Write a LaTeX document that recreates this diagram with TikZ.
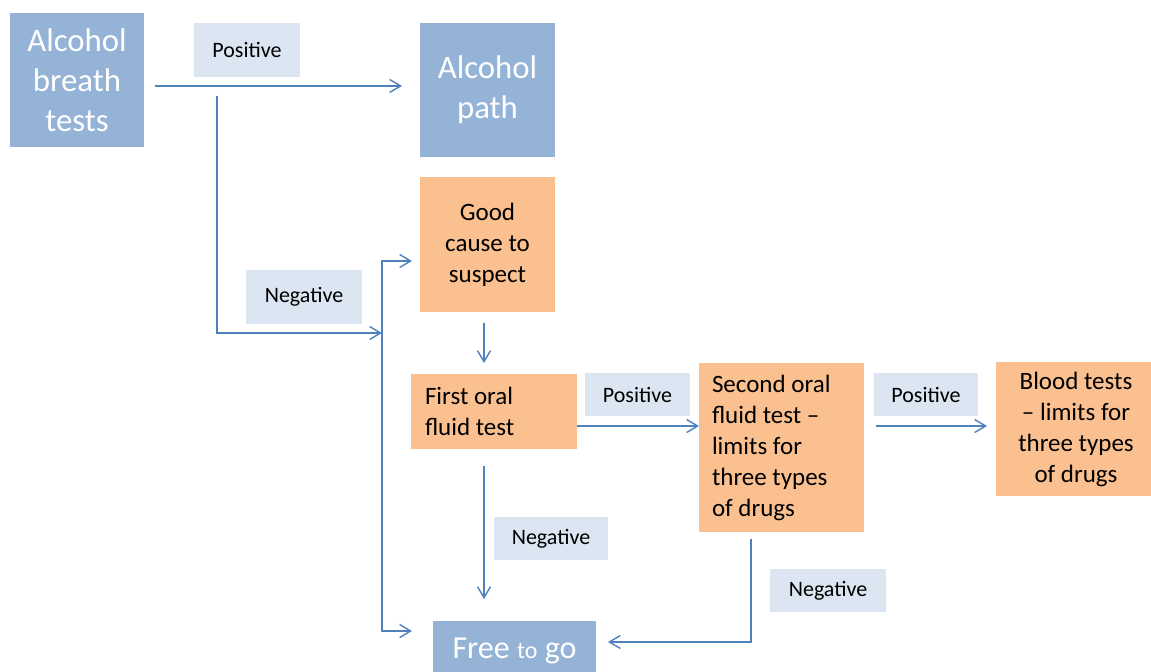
\documentclass[tikz,border=0pt]{standalone}
\usepackage{fontspec}
\setmainfont{Carlito}
\usetikzlibrary{arrows.meta}
\definecolor{boxblue}{HTML}{95B3D7}
\definecolor{boxorange}{HTML}{FAC090}
\definecolor{lablue}{HTML}{DCE6F2}
\definecolor{linkblue}{HTML}{4F81BD}
\tikzset{
  bluebox/.style={fill=boxblue, text=white, inner sep=0pt, align=center,
    font=\fontsize{16.4}{20}\selectfont},
  orangebox/.style={fill=boxorange, text=black, inner sep=0pt, align=center,
    font=\fontsize{12.5}{15.5}\selectfont},
  labelbox/.style={fill=lablue, text=black, inner sep=0pt, align=center,
    font=\fontsize{11}{13}\selectfont},
  conn/.style={draw=linkblue, line width=0.7pt},
  arr/.style={conn, -{Straight Barb[length=5.5pt,width=6.5pt]}},
  dblarr/.style={conn, {Straight Barb[length=5.5pt,width=6.5pt]}-{Straight Barb[length=5.5pt,width=6.5pt]}}
}
\begin{document}
\begin{tikzpicture}[x=0.5pt,y=-0.5pt]
\useasboundingbox[fill=white] (0,0) rectangle (1151,672);

% boxes
\node[bluebox, minimum width=67pt, minimum height=67pt] (abt) at (77,80) {Alcohol\\breath\\tests};
\node[bluebox, minimum width=67.5pt, minimum height=67pt] (ap) at (487.5,90) {Alcohol\\path};
\node[orangebox, minimum width=67.5pt, minimum height=67.5pt] (gc) at (487.5,244.5) {Good\\cause to\\suspect};
\node[orangebox, minimum width=83pt, minimum height=37.5pt, text width=69pt, inner xsep=7pt, align=flush left] (fo) at (494,411.5) {First oral\\fluid test};
\node[orangebox, minimum width=82.5pt, minimum height=84.5pt, text width=69.5pt, inner xsep=6.5pt, align=flush left] (so) at (781.5,447.5) {Second oral\\fluid test --\\limits for\\three types\\of drugs};
\node[orangebox, minimum width=80pt, minimum height=67pt] (bt) at (1076,429) {Blood tests\\-- limits for\\three types\\of drugs};
\node[bluebox, minimum width=81.5pt, minimum height=30pt] (ftg) at (514.5,651) {\fontsize{16}{20}\selectfont Free {\fontsize{12}{14}\selectfont to} go};

% labels
\node[labelbox, minimum width=53pt, minimum height=27pt] (pos1) at (247,50) {Positive};
\node[labelbox, minimum width=58pt, minimum height=27pt] (neg1) at (304,297) {Negative};
\node[labelbox, minimum width=52.5pt, minimum height=21.5pt] (pos2) at (637.5,394.5) {Positive};
\node[labelbox, minimum width=52pt, minimum height=21.5pt] (pos3) at (926,394.5) {Positive};
\node[labelbox, minimum width=57pt, minimum height=21.5pt] (neg2) at (551,538.5) {Negative};
\node[labelbox, minimum width=58pt, minimum height=21.5pt] (neg3) at (828,590.5) {Negative};

% connector end points
\coordinate (a1s) at (155,86);
\coordinate (a1e) at (402,86);
\coordinate (n1s) at (217,96);
\coordinate (n1e) at (382,333);
\coordinate (t1) at (412,261);
\coordinate (t1c) at (382,261);
\coordinate (t2c) at (382,631);
\coordinate (t2) at (412,631);
\coordinate (g1s) at (484,323);
\coordinate (g1e) at (484,363);
\coordinate (f1s) at (577,426);
\coordinate (f1e) at (699,426);
\coordinate (f2s) at (484,466);
\coordinate (f2e) at (484,599);
\coordinate (s1s) at (876,426);
\coordinate (s1e) at (987,426);
\coordinate (s2s) at (751,539);
\coordinate (s2e) at (608,642);

% connectors
\draw[arr] (a1s) -- (a1e);
\draw[arr] (n1s) |- (n1e);
\draw[dblarr] (t1) -- (t1c) -- (t2c) -- (t2);
\draw[arr] (g1s) -- (g1e);
\draw[arr] (f1s) -- (f1e);
\draw[arr] (f2s) -- (f2e);
\draw[arr] (s1s) -- (s1e);
\draw[arr] (s2s) |- (s2e);
\end{tikzpicture}
\end{document}
